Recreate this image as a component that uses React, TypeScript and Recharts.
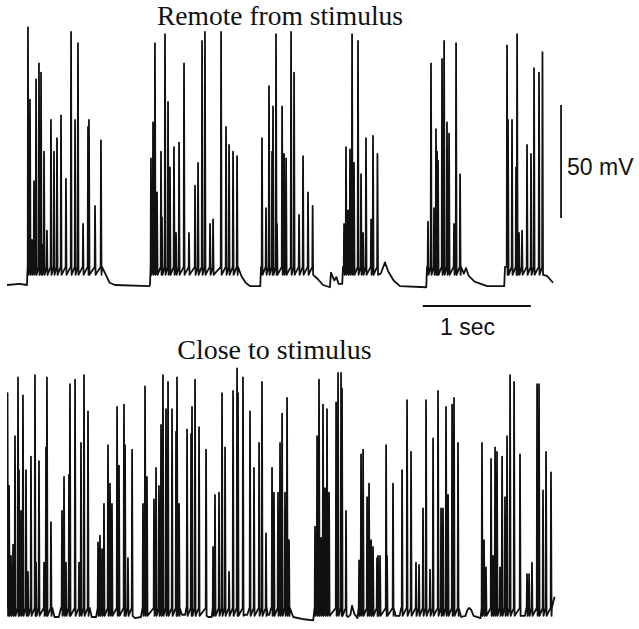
import { LineChart, Line, XAxis, YAxis, ReferenceLine } from 'recharts';

// -----------------------------------------------------------------------------
// Data (time in ms, membrane potential in mV)
// -----------------------------------------------------------------------------

type Pt = [number, number];

// slow envelope of the remote recording: rest, burst plateaus, after-bumps
const remoteSlow: Pt[] = [
  [0, -65], [120, -64.5], [185, -65], [192, -57], [880, -57], [910, -60], [950, -64], [1000, -65],
  [1315, -65.5], [1324, -65], [1330, -57], [2139, -57], [2170, -61], [2210, -64], [2250, -65.5],
  [2345, -65.5], [2352, -57], [2834, -57], [2870, -62], [2926, -65], [2990, -66], [3000, -59.5],
  [3030, -63], [3050, -61.5], [3070, -64.5], [3104, -64.5], [3111, -57], [3435, -57], [3460, -60],
  [3500, -55], [3530, -59], [3580, -63], [3639, -65.5], [3882, -66], [3889, -57], [4204, -57],
  [4230, -60], [4250, -57.5], [4275, -61], [4330, -63.5], [4445, -65.5], [4604, -65.5], [4611, -57],
  [4963, -57], [5000, -61], [5056, -64],
];

// spike peaks of the remote recording
const remoteSpikes: Pt[] = [
  [194, 49], [213, 17], [231, -45], [250, -19], [269, 26], [296, 33], [315, 29], [324, -47], [343, -6],
  [370, -41], [407, 8], [435, -6], [463, 0], [500, 10], [546, -18], [593, 47], [630, 8], [657, 42],
  [704, -38], [750, 5], [759, 8], [815, -30], [870, -1],
  [1333, -9], [1352, 7], [1370, 42], [1389, -24], [1426, -6], [1435, -35], [1463, 46], [1491, 16],
  [1509, -13], [1546, -4], [1565, -42], [1593, -2], [1639, 33], [1685, -42], [1741, -21], [1769, -11],
  [1806, 43], [1833, 47], [1880, -38], [1908, -36], [1982, 47], [2028, 5], [2056, -3], [2093, -6],
  [2130, -8],
  [2361, 0], [2398, -31], [2426, 23], [2454, -6], [2463, 14], [2491, 46], [2500, -38], [2547, 14],
  [2565, -7], [2584, -9], [2630, 47], [2658, 29], [2704, -34], [2741, -8], [2787, -24], [2830, -30],
  [3121, -38], [3139, -4], [3158, -32], [3176, -5], [3195, 46], [3213, -11], [3250, 43], [3278, -16],
  [3297, -42], [3324, 0], [3371, -36], [3389, 1], [3430, -7],
  [3898, -37], [3926, 33], [3954, -31], [3972, 4], [3982, -6], [3991, -10], [4028, 35], [4047, 43],
  [4074, 7], [4093, 2], [4139, -38], [4158, 42], [4195, -16],
  [4630, 41], [4639, 8], [4676, 8], [4713, -13], [4723, 46], [4741, -42], [4769, -41], [4815, -3],
  [4852, -7], [4880, 31], [4926, 29], [4958, 38],
];

// slow envelope of the close recording: depolarised floor with short dips
const closeSlow: Pt[] = [
  [0, -61], [420, -61], [440, -65], [480, -65], [500, -61], [765, -61], [785, -65], [825, -65],
  [840, -61], [1163, -61], [1185, -65.5], [1240, -65], [1255, -61], [1600, -61], [1620, -64],
  [1650, -64], [1660, -61], [1848, -61], [1865, -65], [1895, -65], [1905, -61], [2190, -61],
  [2205, -64], [2225, -64], [2245, -61], [2404, -61], [2415, -64], [2430, -64], [2445, -61],
  [2620, -61], [2650, -65], [2750, -66], [2835, -66.5], [2848, -61], [3143, -61], [3160, -65],
  [3180, -64], [3195, -60], [3215, -63.5], [3245, -65.5], [3256, -61], [3580, -61], [3600, -64.5],
  [3635, -64.5], [3650, -61], [4182, -61], [4205, -65], [4245, -64.5], [4262, -62], [4280, -61],
  [4300, -62], [4320, -64.5], [4385, -65.5], [4395, -61], [4755, -61], [4772, -64.5], [4795, -64.5],
  [4810, -61], [5045, -61], [5070, -56],
];

// spike peaks of the close recording
const closeSpikes: Pt[] = [
  [5, 34], [19, -7], [37, -38], [56, -33], [74, 15], [102, 41], [111, 0], [130, -18], [148, 33],
  [176, 0], [194, -45], [222, 6], [259, 42], [269, -41], [296, 4], [343, -41], [361, 10], [370, 41],
  [407, -23],
  [509, -18], [528, -3], [546, -41], [574, -2], [583, 38], [630, 40], [667, -41], [685, 12], [713, 42],
  [750, 26],
  [843, -32], [861, -29], [880, -35], [898, -15], [935, 11], [954, -6], [972, -15], [1019, 28],
  [1037, 2], [1083, 29], [1093, 11], [1120, -39], [1158, 9],
  [1259, -15], [1278, 37], [1296, -3], [1361, -13], [1380, 1], [1407, -7], [1426, 20], [1444, 42],
  [1472, 27], [1491, 39], [1528, 27], [1565, 17], [1574, 41], [1593, -15],
  [1667, 18], [1704, 16], [1713, 28], [1741, 40], [1778, 19], [1843, 9],
  [1908, -34], [1926, -11], [1963, -10], [1991, 34], [2019, 10], [2056, -45], [2093, 35], [2130, 45],
  [2139, 34], [2185, 41],
  [2250, 26], [2287, 1], [2334, 12], [2361, 39], [2398, -28],
  [2454, 1], [2472, -10], [2509, -10], [2528, 12], [2547, 25], [2574, -10], [2593, 32], [2611, -31],
  [2852, -25], [2871, 15], [2889, 40], [2908, -30], [2926, 29], [2945, -8], [2963, 27], [2982, -10],
  [3047, 30], [3065, 43], [3093, 43], [3102, 36], [3139, -18],
  [3260, -40], [3278, 7], [3297, 9], [3334, -12], [3352, -6], [3371, -31], [3389, -34], [3426, -39],
  [3435, -38], [3454, -38], [3510, 11], [3519, -38], [3574, -6],
  [3658, 0], [3704, 31], [3741, 8], [3787, -41], [3815, -42], [3852, -17], [3880, 31], [3917, -44],
  [3945, 14], [3991, 35], [4019, -17], [4037, -17], [4065, 28], [4084, -11], [4121, 29], [4139, 32],
  [4176, 12],
  [4398, 12], [4417, -31], [4435, -43], [4482, 5], [4500, -38], [4519, 10], [4537, 8], [4565, -43],
  [4584, 6], [4611, -12], [4630, 15], [4658, 42], [4695, 39], [4750, 7],
  [4815, -46], [4834, -46], [4861, -41], [4908, 38], [4926, 38], [4963, -9], [4991, 8], [5037, -1],
];

// scale bars
const mvBar = { t: 5130, from: -35.4, to: 14.6 };
const secBar = { v: -74.3, from: 3850, to: 4850 };

// -----------------------------------------------------------------------------
// Helpers
// -----------------------------------------------------------------------------

// each spike: foot at the current slow level, peak, short after-hyperpolarisation
const buildTrace = (slow: Pt[], spikes: Pt[]) => {
  const pts = slow.map(([t, v]) => ({ t, v }));
  for (const [t, peak] of spikes) {
    let foot = slow[0][1];
    for (const [st, sv] of slow) if (st <= t) foot = sv;
    pts.push({ t: t - 3, v: foot }, { t, v: peak }, { t: t + 5, v: foot - 3.5 });
  }
  return pts.sort((a, b) => a.t - b.t);
};

const remoteData = buildTrace(remoteSlow, remoteSpikes);
const closeData = buildTrace(closeSlow, closeSpikes);

const serif = '"Liberation Serif", "Times New Roman", serif';
const sans = '"Liberation Sans", Arial, sans-serif';

// -----------------------------------------------------------------------------
// Component
// -----------------------------------------------------------------------------

const Trace: React.FC<{
  data: { t: number; v: number }[];
  height: number;
  top: number;
  bottom: number;
  yDomain: [number, number];
  children?: React.ReactNode;
}> = ({ data, height, top, bottom, yDomain, children }) => (
  <LineChart width={639} height={height} data={data} margin={{ top, right: 70.4, bottom, left: 7 }}>
    <XAxis dataKey="t" type="number" domain={[0, 5200]} allowDataOverflow hide />
    <YAxis type="number" domain={yDomain} allowDataOverflow hide />
    <Line
      dataKey="v"
      type="linear"
      stroke="#111"
      strokeWidth={1.8}
      strokeLinejoin="round"
      dot={false}
      isAnimationActive={false}
    />
    {children}
  </LineChart>
);

export default function App() {
  return (
    <div style={{ position: 'absolute', left: 0, top: 0, width: 639, height: 629, background: '#fff' }}>
      <div style={{ position: 'absolute', left: 0, top: 0 }}>
        <Trace data={remoteData} height={330} top={25.1} bottom={11.1} yDomain={[-80, 50]}>
          <ReferenceLine
            segment={[{ x: mvBar.t, y: mvBar.from }, { x: mvBar.t, y: mvBar.to }]}
            stroke="#111"
            strokeWidth={1.8}
          />
          <ReferenceLine
            segment={[{ x: secBar.from, y: secBar.v }, { x: secBar.to, y: secBar.v }]}
            stroke="#111"
            strokeWidth={1.8}
          />
        </Trace>
      </div>
      <div style={{ position: 'absolute', left: 0, top: 340 }}>
        <Trace data={closeData} height={289} top={17.1} bottom={0.7} yDomain={[-70, 50]} />
      </div>
      <svg width={639} height={629} style={{ position: 'absolute', left: 0, top: 0, pointerEvents: 'none' }}>
        <text x={280} y={24.5} textAnchor="middle" fontFamily={serif} fontSize={27.5} fill="#111">
          Remote from stimulus
        </text>
        <text x={274.5} y={359} textAnchor="middle" fontFamily={serif} fontSize={28} fill="#111">
          Close to stimulus
        </text>
        <text x={567} y={175} fontFamily={sans} fontSize={23} fill="#111">
          50 mV
        </text>
        <text x={467.5} y={335} textAnchor="middle" fontFamily={sans} fontSize={23} fill="#111">
          1 sec
        </text>
      </svg>
    </div>
  );
}
